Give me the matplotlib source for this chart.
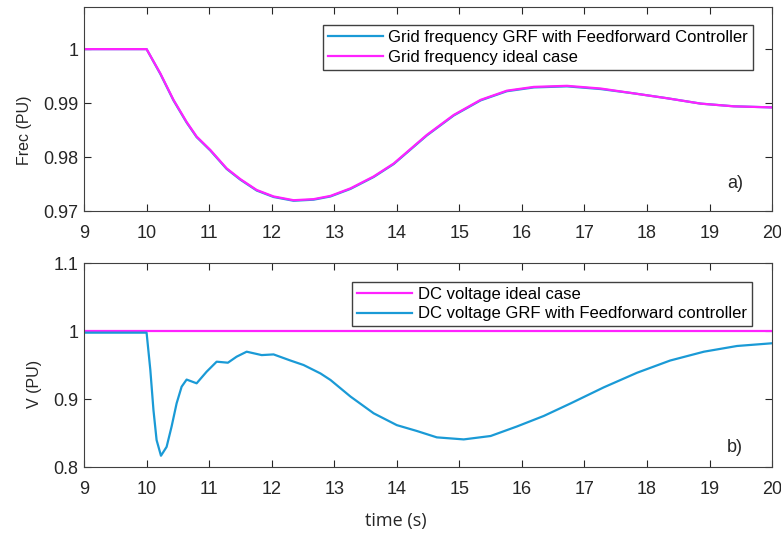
import matplotlib.pyplot as plt

plt.rcParams['font.family'] = ['Liberation Sans', 'DejaVu Sans']

# grid frequency (PU)
t_freq = [9, 10.0, 10.22, 10.43, 10.64, 10.80, 11.02, 11.28, 11.50, 11.76,
          12.03, 12.35, 12.67, 12.94, 13.26, 13.63, 13.95, 14.06, 14.48, 14.91,
          15.34, 15.76, 16.19, 16.72, 17.26, 17.79, 18.32, 18.86, 19.39, 20.0]
freq_ideal = [1.0, 1.0, 0.9955, 0.9906, 0.9865, 0.9838, 0.9813, 0.9779, 0.9759,
              0.9739, 0.9727, 0.9720, 0.9722, 0.9728, 0.9742, 0.9764, 0.9788,
              0.9799, 0.9841, 0.9878, 0.9906, 0.9923, 0.9930, 0.9932, 0.9927,
              0.9918, 0.9909, 0.9899, 0.9894, 0.9892]
freq_grf = [1.0, 1.0, 0.9954, 0.9905, 0.9864, 0.9837, 0.9812, 0.9778, 0.9758,
            0.9738, 0.9726, 0.9719, 0.9721, 0.9727, 0.9741, 0.9763, 0.9787,
            0.9798, 0.9840, 0.9877, 0.9905, 0.9922, 0.9929, 0.9931, 0.9926,
            0.9918, 0.9909, 0.9899, 0.9894, 0.9892]

# DC voltage (PU)
t_dc = [9, 10.0, 10.06, 10.11, 10.16, 10.23, 10.32, 10.40, 10.48, 10.56, 10.64,
        10.80, 10.96, 11.12, 11.30, 11.44, 11.60, 11.84, 12.03, 12.30, 12.51,
        12.78, 12.94, 13.26, 13.63, 14.0, 14.32, 14.64, 15.07, 15.50, 15.92,
        16.35, 16.78, 17.31, 17.84, 18.37, 18.91, 19.44, 20.0]
dc_grf = [0.998, 0.998, 0.943, 0.884, 0.840, 0.817, 0.830, 0.860, 0.894, 0.9185,
          0.929, 0.9235, 0.9406, 0.9553, 0.9538, 0.9627, 0.970, 0.965, 0.966,
          0.957, 0.9504, 0.938, 0.9284, 0.904, 0.8794, 0.862, 0.8534, 0.844,
          0.841, 0.846, 0.860, 0.8755, 0.894, 0.9176, 0.939, 0.957, 0.970,
          0.9784, 0.9824]
t_dc_ideal = [9, 20]
dc_ideal = [1.0, 1.0]

xticks = list(range(9, 21))

blue = '#1a9ad6'
magenta = '#ff22ff'
axcol = '#404040'
txtcol = '#262626'

fig = plt.figure(figsize=(7.81, 5.33), dpi=100)
ax1 = fig.add_axes([0.1076, 0.6041, 0.881, 0.3827])
ax2 = fig.add_axes([0.1076, 0.1233, 0.881, 0.3827])

leg_kw = dict(loc='upper right', borderaxespad=0, fontsize=12, handlelength=3.3,
              handletextpad=0.35, fancybox=False, framealpha=1, edgecolor=axcol,
              labelspacing=0.28, borderpad=0.3)

ax1.plot(t_freq, freq_grf, color=blue, linewidth=1.6,
         label='Grid frequency GRF with Feedforward Controller')
ax1.plot(t_freq, freq_ideal, color=magenta, linewidth=1.6,
         label='Grid frequency ideal case')
ax1.set_xlim(9, 20)
ax1.set_ylim(0.97, 1.0078)
ax1.set_yticks([0.97, 0.98, 0.99, 1.0])
ax1.set_yticklabels(['0.97', '0.98', '0.99', '1'])
ax1.set_ylabel('Frec (PU)', fontsize=11.5, color=txtcol)
ax1.yaxis.set_label_coords(-0.0761, 0.397)
ax1.text(0.9346, 0.135, 'a)', transform=ax1.transAxes, fontsize=13,
         va='center', color=txtcol)
ax1.legend(bbox_to_anchor=(0.9724, 0.9118), **leg_kw)

ax2.plot(t_dc_ideal, dc_ideal, color=magenta, linewidth=1.6,
         label='DC voltage ideal case')
ax2.plot(t_dc, dc_grf, color=blue, linewidth=1.6,
         label='DC voltage GRF with Feedforward controller')
ax2.set_xlim(9, 20)
ax2.set_ylim(0.8, 1.1)
ax2.set_yticks([0.8, 0.9, 1.0, 1.1])
ax2.set_yticklabels(['0.8', '0.9', '1', '1.1'])
ax2.set_ylabel('V (PU)', fontsize=11.5, color=txtcol)
ax2.yaxis.set_label_coords(-0.0611, 0.408)
ax2.text(0.9346, 0.097, 'b)', transform=ax2.transAxes, fontsize=13,
         va='center', color=txtcol)
ax2.legend(bbox_to_anchor=(0.9705, 0.9098), **leg_kw)

for ax in (ax1, ax2):
    ax.set_xticks(xticks)
    ax.tick_params(axis='x', pad=10)
    ax.tick_params(axis='y', pad=4)
    ax.tick_params(direction='in', top=True, right=True, length=5,
                   labelsize=13, colors=txtcol)
    for s in ax.spines.values():
        s.set_color(axcol)

fig.text(396 / 781, 1 - 521 / 533, 'time (s)', fontsize=13, family='Open Sans',
         ha='center', va='center', color=txtcol)

fig.savefig('out.png', dpi=100)
